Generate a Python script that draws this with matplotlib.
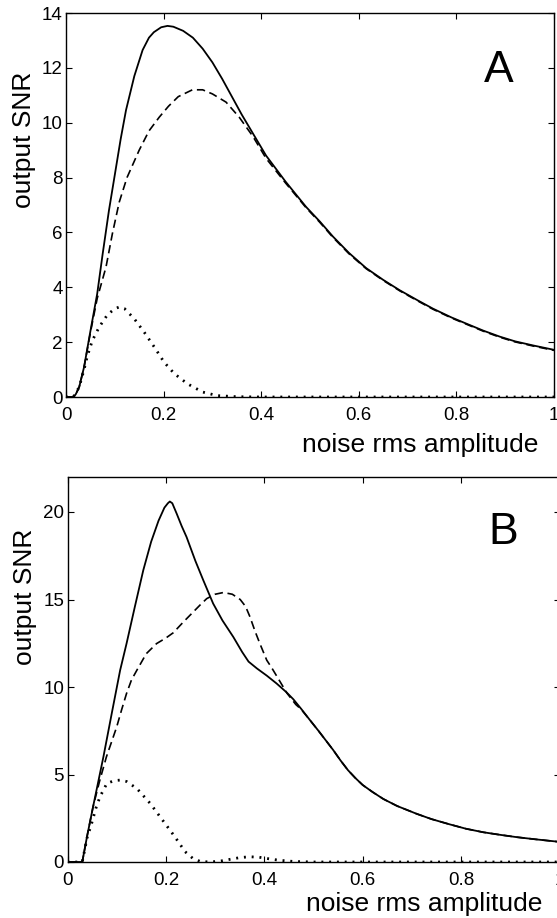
import matplotlib
matplotlib.use("Agg")
import matplotlib.pyplot as plt

plt.rcParams['font.family'] = ['Liberation Sans', 'DejaVu Sans']

# Panel A: output SNR vs noise rms amplitude
xa_solid = [0, 0.015, 0.02, 0.027, 0.037, 0.05, 0.064, 0.075, 0.088, 0.1, 0.112, 0.123,
            0.14, 0.157, 0.17, 0.18, 0.195, 0.208, 0.22, 0.24, 0.26, 0.28, 0.30, 0.32,
            0.34, 0.36, 0.38, 0.41, 0.45, 0.492, 0.52, 0.547, 0.58, 0.615, 0.65, 0.684,
            0.72, 0.752, 0.79, 0.821, 0.855, 0.889, 0.92, 0.957, 1.0]
ya_solid = [0, 0, 0.1, 0.36, 1.09, 2.4, 3.77, 5.2, 6.8, 8.1, 9.4, 10.46,
            11.7, 12.65, 13.1, 13.3, 13.48, 13.53, 13.5, 13.35, 13.1, 12.7, 12.2, 11.6,
            10.95, 10.3, 9.7, 8.8, 7.85, 6.93, 6.4, 5.85, 5.25, 4.7, 4.27, 3.89,
            3.53, 3.22, 2.9, 2.67, 2.42, 2.2, 2.03, 1.88, 1.72]

xa_dash = [0, 0.015, 0.02, 0.027, 0.037, 0.05, 0.064, 0.082, 0.095, 0.109, 0.125, 0.15,
           0.17, 0.191, 0.21, 0.23, 0.259, 0.28, 0.30, 0.328, 0.355, 0.383, 0.41, 0.45,
           0.492, 0.52, 0.547, 0.58, 0.615, 0.65, 0.684, 0.72, 0.752, 0.79, 0.821, 0.855,
           0.889, 0.92, 0.957, 1.0]
ya_dash = [0, 0, 0.1, 0.36, 1.09, 2.35, 3.6, 4.74, 5.95, 7.1, 8.0, 9.0,
           9.7, 10.2, 10.6, 10.95, 11.2, 11.2, 11.05, 10.75, 10.2, 9.5, 8.7, 7.8,
           6.9, 6.37, 5.82, 5.22, 4.68, 4.25, 3.87, 3.51, 3.2, 2.88, 2.65, 2.4,
           2.18, 2.01, 1.86, 1.7]

xa_dot = [0, 0.015, 0.027, 0.037, 0.044, 0.054, 0.068, 0.085, 0.1, 0.109, 0.12, 0.14,
          0.16, 0.181, 0.201, 0.222, 0.249, 0.28, 0.31, 0.35, 0.4, 1.0]
ya_dot = [0, 0, 0.36, 1.0, 1.51, 2.06, 2.55, 3.0, 3.22, 3.28, 3.22, 2.85,
          2.37, 1.82, 1.27, 0.85, 0.48, 0.18, 0.05, 0.01, 0, 0]

# Panel B
xb_solid = [0, 0.03, 0.04, 0.052, 0.073, 0.09, 0.107, 0.12, 0.137, 0.154, 0.17, 0.185,
            0.197, 0.204, 0.208, 0.213, 0.222, 0.232, 0.242, 0.26, 0.276, 0.296, 0.315,
            0.337, 0.355, 0.368, 0.385, 0.405, 0.425, 0.445, 0.459, 0.475, 0.493, 0.51,
            0.525, 0.54, 0.555, 0.57, 0.585, 0.6, 0.62, 0.642, 0.67, 0.71, 0.74, 0.777,
            0.81, 0.845, 0.88, 0.913, 0.95, 1.0]
yb_solid = [0, 0, 1.5, 3.16, 6.01, 8.5, 10.96, 12.48, 14.6, 16.67, 18.3, 19.5,
            20.25, 20.5, 20.6, 20.5, 19.9, 19.2, 18.57, 17.2, 16.1, 14.77, 13.8,
            12.86, 12.0, 11.45, 11.06, 10.65, 10.2, 9.7, 9.3, 8.75, 8.1, 7.5,
            6.95, 6.4, 5.8, 5.25, 4.8, 4.4, 4.0, 3.6, 3.2, 2.75, 2.45, 2.15,
            1.9, 1.7, 1.55, 1.42, 1.3, 1.15]

xb_dash = [0, 0.03, 0.04, 0.052, 0.065, 0.079, 0.09, 0.1, 0.11, 0.12, 0.13, 0.141,
           0.16, 0.181, 0.2, 0.215, 0.235, 0.256, 0.27, 0.283, 0.30, 0.317, 0.335,
           0.351, 0.362, 0.371, 0.381, 0.391, 0.405, 0.415, 0.43, 0.446, 0.464, 0.475,
           0.493, 0.51, 0.525, 0.54, 0.555, 0.57, 0.585, 0.6, 0.62, 0.642, 0.67, 0.71,
           0.74, 0.777, 0.81, 0.845, 0.88, 0.913, 0.95, 1.0]
yb_dash = [0, 0, 1.5, 3.16, 4.6, 6.0, 6.9, 7.72, 8.7, 9.63, 10.4, 10.96,
           11.9, 12.48, 12.8, 13.1, 13.7, 14.3, 14.7, 15.05, 15.3, 15.4, 15.3,
           15.0, 14.6, 14.0, 13.2, 12.48, 11.53, 11.1, 10.4, 9.65, 9.0, 8.72,
           8.1, 7.5, 6.95, 6.4, 5.8, 5.25, 4.8, 4.4, 4.0, 3.6, 3.2, 2.75,
           2.45, 2.15, 1.9, 1.7, 1.55, 1.42, 1.3, 1.15]

xb_dot = [0, 0.03, 0.04, 0.049, 0.058, 0.066, 0.08, 0.095, 0.107, 0.12, 0.141, 0.168,
          0.188, 0.218, 0.239, 0.255, 0.27, 0.29, 0.31, 0.33, 0.35, 0.37, 0.39, 0.41,
          0.43, 0.46, 0.5, 1.0]
yb_dot = [0, 0, 1.4, 2.2, 3.1, 3.73, 4.49, 4.65, 4.68, 4.6, 4.2, 3.35,
          2.59, 1.45, 0.59, 0.2, 0.03, 0.0, 0.05, 0.15, 0.25, 0.3, 0.27, 0.18,
          0.1, 0.03, 0.0, 0.0]

xticks = [0, 0.2, 0.4, 0.6, 0.8, 1]
xticklabels = ['0', '0.2', '0.4', '0.6', '0.8', '1']
yticks_a = [0, 2, 4, 6, 8, 10, 12, 14]
yticks_b = [0, 5, 10, 15, 20]

fig = plt.figure(figsize=(5.57, 9.18), dpi=100)
axA = fig.add_axes([66/557, 1-397/918, 488/557, 384/918])
axB = fig.add_axes([67.5/557, 1-862/918, 492/557, 385/918])

def style(ax):
    ax.tick_params(direction='in', length=4, width=0.8, top=True, right=True,
                   labelsize=13.5, colors='black')
    ax.tick_params(axis='x', pad=7)
    ax.tick_params(axis='y', pad=2.5)
    for s in ax.spines.values():
        s.set_linewidth(1.0)

dash = (0, (5, 2.8))
dots = (0, (0.7, 2.1))

# panel A
axA.plot(xa_solid, ya_solid, color='black', lw=1.3)
axA.plot(xa_dash, ya_dash, color='black', lw=1.2, linestyle=dash)
axA.plot(xa_dot, ya_dot, color='black', lw=2.0, linestyle=dots)
axA.set_xlim(0, 1)
axA.set_ylim(0, 14)
axA.set_xticks(xticks)
axA.set_xticklabels(xticklabels)
axA.set_yticks(yticks_a)
style(axA)
axA.set_xlabel('noise rms amplitude', fontsize=19)
axA.xaxis.set_label_coords(0.725, -0.093)
axA.set_ylabel('output SNR', fontsize=19)
axA.yaxis.set_label_coords(-0.062, 0.67)
axA.text(0.887, 11.9, 'A', fontsize=32, ha='center', va='center')

# panel B
axB.plot(xb_solid, yb_solid, color='black', lw=1.3)
axB.plot(xb_dash, yb_dash, color='black', lw=1.2, linestyle=dash)
axB.plot(xb_dot, yb_dot, color='black', lw=2.0, linestyle=dots)
axB.set_xlim(0, 1)
axB.set_ylim(0, 22)
axB.set_xticks(xticks)
axB.set_xticklabels(xticklabels)
axB.set_yticks(yticks_b)
style(axB)
axB.set_xlabel('noise rms amplitude', fontsize=19)
axB.xaxis.set_label_coords(0.725, -0.078)
axB.set_ylabel('output SNR', fontsize=19)
axB.yaxis.set_label_coords(-0.062, 0.69)
axB.text(0.885, 18.8, 'B', fontsize=32, ha='center', va='center')

fig.savefig('out.png', dpi=100)
